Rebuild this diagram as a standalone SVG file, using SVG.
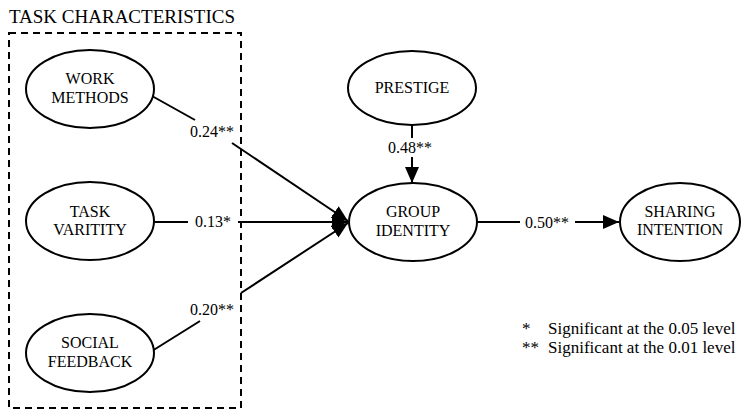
<svg xmlns="http://www.w3.org/2000/svg" width="741" height="411" viewBox="0 0 741 411">
<defs>
<style>
text{font-family:'Liberation Serif',Tinos,'Times New Roman','DejaVu Serif',serif;fill:#000}
.n{font-size:16px;text-anchor:middle}
.lbl{font-size:16px;text-anchor:middle}
.t{font-size:19px}
.lg{font-size:17px}
ellipse{fill:#fff;stroke:#000;stroke-width:2}
.c line{stroke:#000;stroke-width:2}
.box{fill:none;stroke:#000;stroke-width:2;stroke-dasharray:7 5}
</style>
<marker id="ah" markerUnits="userSpaceOnUse" markerWidth="16" markerHeight="14" refX="16" refY="7" orient="auto">
<path d="M0,0 L16,7 L0,14 z" fill="#000"/>
</marker>
</defs>
<rect width="741" height="411" fill="#fff"/>
<g font-family="'Liberation Serif', Tinos, 'Times New Roman', 'DejaVu Serif', serif">
<text class="t" x="9" y="23">TASK CHARACTERISTICS</text>
<rect class="box" x="9" y="33" width="232" height="375"/>
<g class="c" id="connectors">
<line x1="152" y1="96" x2="195" y2="120"/>
<line x1="232" y1="143" x2="348" y2="221" marker-end="url(#ah)"/>
<text class="lbl" x="212" y="137">0.24**</text>
<line x1="154" y1="222" x2="188" y2="222"/>
<line x1="238" y1="222" x2="348" y2="222" marker-end="url(#ah)"/>
<text class="lbl" x="213" y="227">0.13*</text>
<line x1="152" y1="351" x2="200" y2="321"/>
<line x1="241" y1="293" x2="348" y2="223" marker-end="url(#ah)"/>
<text class="lbl" x="212" y="315">0.20**</text>
<line x1="412" y1="125" x2="412" y2="138"/>
<line x1="412" y1="157" x2="412" y2="183" marker-end="url(#ah)"/>
<text class="lbl" x="410" y="153">0.48**</text>
<line x1="477" y1="222" x2="520" y2="222"/>
<line x1="575" y1="222" x2="619" y2="222" marker-end="url(#ah)"/>
<text class="lbl" x="547" y="228">0.50**</text>
</g>
<g id="work-methods"><ellipse cx="90" cy="89" rx="64" ry="39"/><text class="n" x="90" y="84">WORK</text><text class="n" x="90" y="103">METHODS</text></g>
<g id="task-varitity"><ellipse cx="90" cy="221" rx="64" ry="39"/><text class="n" x="90" y="217">TASK</text><text class="n" x="90" y="235">VARITITY</text></g>
<g id="social-feedback"><ellipse cx="90" cy="353" rx="64" ry="39"/><text class="n" x="90" y="348">SOCIAL</text><text class="n" x="90" y="367">FEEDBACK</text></g>
<g id="prestige"><ellipse cx="412" cy="88" rx="64" ry="37"/><text class="n" x="412" y="93">PRESTIGE</text></g>
<g id="group-identity"><ellipse cx="413" cy="222" rx="64" ry="39"/><text class="n" x="413" y="217">GROUP</text><text class="n" x="413" y="236">IDENTITY</text></g>
<g id="sharing-intention"><ellipse cx="680" cy="222" rx="60" ry="39"/><text class="n" x="680" y="217">SHARING</text><text class="n" x="680" y="235">INTENTION</text></g>
<g id="legend">
<text class="lg" x="522" y="334">*</text>
<text class="lg" x="548" y="334">Significant at the 0.05 level</text>
<text class="lg" x="522" y="353">**</text>
<text class="lg" x="548" y="353">Significant at the 0.01 level</text>
</g>
</g>
</svg>
